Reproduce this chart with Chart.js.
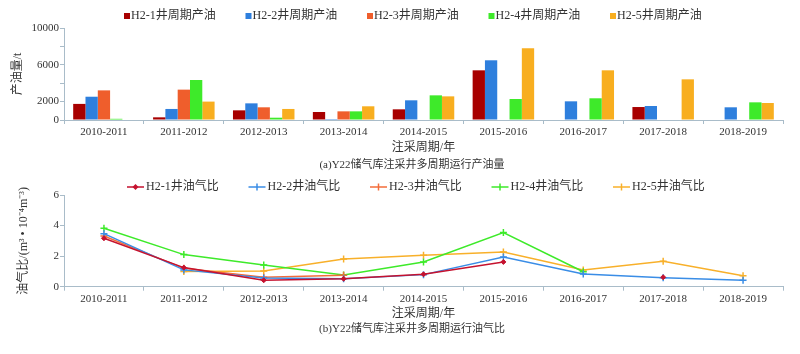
<!DOCTYPE html>
<html>
<head>
<meta charset="utf-8">
<script src="https://cdn.jsdelivr.net/npm/chart.js@4.4.1/dist/chart.umd.min.js"></script>
<style>
html, body { margin: 0; padding: 0; background: #fff; }
#wrap { position: relative; width: 800px; height: 354px; }
.box { position: absolute; left: 0; width: 800px; }
</style>
</head>
<body>
<div id="wrap">
  <div class="box" style="top:0;height:175px"><canvas id="oilChart"></canvas></div>
  <div class="box" style="top:175px;height:179px"><canvas id="ratioChart"></canvas></div>
</div>
<script>
// categories
const periods = ['2010-2011', '2011-2012', '2012-2013', '2013-2014', '2014-2015',
                 '2015-2016', '2016-2017', '2017-2018', '2018-2019'];
const wells = ['H2-1', 'H2-2', 'H2-3', 'H2-4', 'H2-5'];

// oil production per cycle, t
const oilH21 = [1750, 290, 1050, 870, 1160, 5400, null, 1410, null];
const oilH22 = [2530, 1200, 1810, 100, 2140, 6490, 2030, 1520, 1380];
const oilH23 = [3220, 3300, 1380, 940, null, null, null, null, null];
const oilH24 = [130, 4350, 250, 940, 2680, 2280, 2360, null, 1920];
const oilH25 = [null, 2000, 1200, 1490, 2570, 7790, 5400, 4420, 1850];

// oil-gas ratio per cycle
const ratioH21 = [3.17, 1.25, 0.42, 0.52, 0.81, 1.62, null, 0.62, null];
const ratioH22 = [3.47, 1.10, 0.57, 0.52, 0.79, 1.94, 0.83, 0.59, 0.42];
const ratioH23 = [3.32, 1.20, 0.62, 0.75, null, null, null, null, null];
const ratioH24 = [3.82, 2.10, 1.42, 0.77, 1.62, 3.54, 0.98, null, null];
const ratioH25 = [null, 1.00, 1.03, 1.81, 2.05, 2.27, 1.09, 1.66, 0.72];

// labelled y ticks
const oilTickLabels = [0, 2000, 6000, 10000];
const ratioTickLabels = [0, 2, 4, 6];

const barColors = ['#A80000', '#2E7FDD', '#EF5E2C', '#3EEA2A', '#F8AE1F'];
const lineColors = ['#C5122F', '#3A8DE6', '#F36C3A', '#3EEA2A', '#F8B02A'];
const axisColor = '#A9BCC9';
const textColor = '#333';
const serif = '"Liberation Serif", "Noto Sans CJK SC", serif';

const oilData = [oilH21, oilH22, oilH23, oilH24, oilH25];
const ratioData = [ratioH21, ratioH22, ratioH23, ratioH24, ratioH25];

// legend + caption drawn on the canvas
const wellLegend = {
    id: 'wellLegend',
    afterDraw(chart, args, opts) {
        const ctx = chart.ctx;
        ctx.save();
        ctx.font = '12px ' + serif;
        ctx.textBaseline = 'middle';
        ctx.textAlign = 'left';
        chart.data.datasets.forEach(function(ds, i) {
            const x = opts.x + i * opts.step;
            const y = opts.y;
            let tx;
            if (opts.type === 'box') {
                ctx.fillStyle = ds.backgroundColor;
                ctx.fillRect(x, y - 3, 6, 6);
                tx = x + 7;
            } else {
                ctx.strokeStyle = ds.borderColor;
                ctx.fillStyle = ds.borderColor;
                ctx.lineWidth = 1.5;
                ctx.beginPath();
                ctx.moveTo(x, y);
                ctx.lineTo(x + 17, y);
                ctx.stroke();
                const mx = x + 8.5;
                if (ds.pointStyle === 'rectRot') {
                    ctx.beginPath();
                    ctx.moveTo(mx, y - 3); ctx.lineTo(mx + 3, y);
                    ctx.lineTo(mx, y + 3); ctx.lineTo(mx - 3, y);
                    ctx.closePath();
                    ctx.fill();
                } else {
                    ctx.beginPath();
                    ctx.moveTo(mx, y - 3.5); ctx.lineTo(mx, y + 3.5);
                    ctx.stroke();
                }
                tx = x + 19;
            }
            ctx.fillStyle = textColor;
            ctx.fillText(ds.label, tx, y);
        });
        ctx.textAlign = 'center';
        ctx.font = '11px ' + serif;
        ctx.fillText(opts.caption, opts.captionX, chart.chartArea.bottom + opts.captionDy);
        ctx.restore();
    }
};

function yAxis(max, step, labels, title, titlePad) {
    return {
        min: 0,
        max: max,
        afterFit: function(scale) { scale.width = 64; },
        border: { color: axisColor, width: 1 },
        grid: { drawOnChartArea: false, drawTicks: true, tickLength: 4, color: axisColor },
        ticks: {
            stepSize: step,
            padding: 1,
            color: textColor,
            font: { family: serif, size: 11 },
            callback: function(value) { return labels.indexOf(value) >= 0 ? value : ''; }
        },
        title: {
            display: true,
            text: title,
            color: textColor,
            font: { family: serif, size: 12 },
            padding: { top: titlePad, bottom: 0 }
        }
    };
}

function xAxis(height) {
    return {
        offset: true,
        afterFit: function(scale) { scale.height = height; },
        border: { color: axisColor, width: 1 },
        grid: { offset: true, drawOnChartArea: false, drawTicks: true, tickLength: 4, color: axisColor },
        ticks: {
            padding: 2,
            maxRotation: 0,
            autoSkip: false,
            color: textColor,
            font: { family: serif, size: 11 }
        },
        title: {
            display: true,
            text: '注采周期/年',
            color: textColor,
            font: { family: serif, size: 12 },
            padding: { top: 0, bottom: 0 }
        }
    };
}

new Chart(document.getElementById('oilChart'), {
    type: 'bar',
    data: {
        labels: periods,
        datasets: wells.map(function(w, i) {
            return {
                label: w + '井周期产油',
                data: oilData[i],
                backgroundColor: barColors[i],
                borderWidth: 0,
                barPercentage: 1.0,
                categoryPercentage: 0.77
            };
        })
    },
    options: {
        responsive: true,
        maintainAspectRatio: false,
        animation: false,
        layout: { padding: { left: 0, right: 17, top: 28, bottom: 19.8 } },
        plugins: {
            legend: { display: false },
            tooltip: { enabled: false },
            wellLegend: { type: 'box', x: 124, step: 121.5, y: 16,
                          caption: '(a)Y22储气库注采井多周期运行产油量', captionX: 412, captionDy: 45 }
        },
        scales: {
            x: xAxis(35.2),
            y: yAxis(10000, 2000, oilTickLabels, '产油量/t', 10.8)
        }
    },
    plugins: [wellLegend]
});

new Chart(document.getElementById('ratioChart'), {
    type: 'line',
    data: {
        labels: periods,
        datasets: wells.map(function(w, i) {
            return {
                label: w + '井油气比',
                data: ratioData[i],
                borderColor: lineColors[i],
                backgroundColor: lineColors[i],
                borderWidth: 1.5,
                pointStyle: i === 0 ? 'rectRot' : 'cross',
                pointRadius: i === 0 ? 2.5 : 3.5,
                pointBorderWidth: i === 0 ? 1 : 1.5,
                pointBorderColor: lineColors[i],
                pointBackgroundColor: lineColors[i],
                tension: 0,
                fill: false
            };
        })
    },
    options: {
        responsive: true,
        maintainAspectRatio: false,
        animation: false,
        layout: { padding: { left: 0, right: 17, top: 20, bottom: 33.1 } },
        plugins: {
            legend: { display: false },
            tooltip: { enabled: false },
            wellLegend: { type: 'line', x: 127, step: 121.5, y: 12,
                          caption: '(b)Y22储气库注采井多周期运行油气比', captionX: 412, captionDy: 42 }
        },
        scales: {
            x: xAxis(34.2),
            y: yAxis(6, 2, ratioTickLabels, '油气比/(m³ • 10⁻⁴m⁻³)', 16.8)
        }
    },
    plugins: [wellLegend]
});
</script>
</body>
</html>
